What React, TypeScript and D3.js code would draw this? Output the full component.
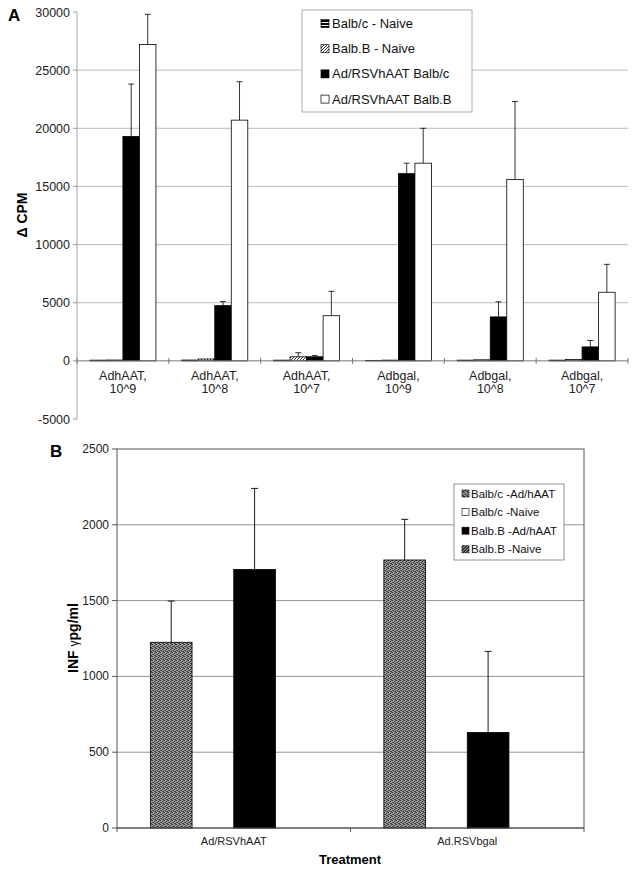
import React from "react";
import * as d3 from "d3";

// ---------- Panel A data ----------
const groupsA = ["AdhAAT,|10^9", "AdhAAT,|10^8", "AdhAAT,|10^7", "Adbgal,|10^9", "Adbgal,|10^8", "Adbgal,|10^7"];
const seriesA = ["Balb/c - Naive", "Balb.B - Naive", "Ad/RSVhAAT Balb/c", "Ad/RSVhAAT Balb.B"];
const balbcNaiveA = [60, 70, 60, 40, 60, 60];
const balbBNaiveA = [70, 160, 350, 60, 90, 120];
const adBalbcA = [19300, 4750, 350, 16100, 3780, 1200];
const adBalbBA = [27200, 20700, 3880, 17000, 15600, 5900];
const errBalbcNaiveA = [0, 0, 0, 0, 0, 0];
const errBalbBNaiveA = [0, 0, 350, 0, 0, 0];
const errAdBalbcA = [4500, 350, 100, 900, 1300, 550];
const errAdBalbBA = [2600, 3300, 2100, 3000, 6700, 2400];
const ticksA = [-5000, 0, 5000, 10000, 15000, 20000, 25000, 30000];

// ---------- Panel B data ----------
const groupsB = ["Ad/RSVhAAT", "Ad.RSVbgal"];
const seriesB = ["Balb/c -Ad/hAAT", "Balb/c -Naive", "Balb.B -Ad/hAAT", "Balb.B -Naive"];
const balbcAdB = [1225, 1768];
const balbcNaiveB = [0, 0];
const balbBAdB = [1705, 630];
const balbBNaiveB = [0, 0];
const errBalbcAdB = [272, 268];
const errBalbBAdB = [535, 535];
const ticksB = [0, 500, 1000, 1500, 2000, 2500];

const FONT = "'Liberation Sans', Arial, Helvetica, sans-serif";

export default function App() {
  const xA = d3.scaleBand<string>().domain(groupsA).range([77, 628]).paddingInner(0).paddingOuter(0);
  const xAin = d3.scaleBand<string>().domain(seriesA).range([0, xA.bandwidth()]).paddingInner(0).paddingOuter(0.78);
  const yA = d3.scaleLinear().domain([-5000, 30000]).range([419, 12]);
  const valsA = [balbcNaiveA, balbBNaiveA, adBalbcA, adBalbBA];
  const errsA = [errBalbcNaiveA, errBalbBNaiveA, errAdBalbcA, errAdBalbBA];
  const fillsA = ["url(#hlines)", "url(#diag)", "#000", "#fff"];

  const xB = d3.scaleBand<string>().domain(groupsB).range([117, 584]).paddingInner(0).paddingOuter(0);
  const xBin = d3.scaleBand<string>().domain(seriesB).range([0, xB.bandwidth()]).paddingInner(0).paddingOuter(0.8);
  const yB = d3.scaleLinear().domain([0, 2500]).range([828, 449]);
  const valsB = [balbcAdB, balbcNaiveB, balbBAdB, balbBNaiveB];
  const errsB = [errBalbcAdB, [0, 0], errBalbBAdB, [0, 0]];
  const fillsB = ["url(#dots)", "#fff", "#000", "url(#darkdiag)"];

  const boundariesA = [...groupsA.map((g) => xA(g)!), 628];
  const boundariesB = [...groupsB.map((g) => xB(g)!), 584];

  return (
    <svg
      width={636}
      height={871}
      style={{ position: "absolute", left: 0, top: 0, display: "block", fontFamily: FONT, background: "#fff" }}
    >
      <defs>
        <pattern id="hlines" width="4" height="3" patternUnits="userSpaceOnUse">
          <rect width="4" height="3" fill="#000" />
          <rect y="1" width="4" height="1" fill="#fff" />
        </pattern>
        <pattern id="diag" width="3" height="3" patternUnits="userSpaceOnUse">
          <rect width="3" height="3" fill="#fff" />
          <path d="M0,3 L3,0" stroke="#000" strokeWidth="0.8" />
        </pattern>
        <pattern id="dots" width="4" height="4" patternUnits="userSpaceOnUse">
          <rect width="4" height="4" fill="#9c9c9c" />
          <rect x="0" y="0" width="1" height="1" fill="#333" />
          <rect x="2" y="1" width="1" height="1" fill="#333" />
          <rect x="1" y="2" width="1" height="1" fill="#333" />
          <rect x="3" y="3" width="1" height="1" fill="#333" />
          <rect x="2" y="3" width="1" height="1" fill="#555" />
          <rect x="0" y="2" width="1" height="1" fill="#555" />
          <rect x="3" y="0" width="1" height="1" fill="#555" />
        </pattern>
        <pattern id="darkdiag" width="3" height="3" patternUnits="userSpaceOnUse">
          <rect width="3" height="3" fill="#333" />
          <path d="M0,3 L3,0" stroke="#ccc" strokeWidth="0.7" />
        </pattern>
      </defs>

      {/* ================= Panel A ================= */}
      <text x={8} y={21} fontSize={17} fontWeight="bold">A</text>
      {ticksA.filter((t) => t > 0 && t < 30000).map((t) => (
        <line key={"ga" + t} x1={77} x2={628} y1={yA(t)} y2={yA(t)} stroke="#aaa" strokeWidth={0.8} />
      ))}
      <line x1={77} x2={77} y1={yA(30000)} y2={yA(-5000)} stroke="#999" strokeWidth={0.9} />
      {ticksA.map((t) => (
        <g key={"ta" + t}>
          <line x1={73} x2={77} y1={yA(t)} y2={yA(t)} stroke="#999" />
          <text x={70} y={yA(t) + 4.5} fontSize={12.5} textAnchor="end" fill="#222">{t}</text>
        </g>
      ))}
      <text transform={`translate(27,${215}) rotate(-90)`} fontSize={14} fontWeight="bold" textAnchor="middle">Δ CPM</text>
      {groupsA.map((g, gi) =>
        seriesA.map((s, si) => {
          const v = valsA[si][gi];
          const x0 = xA(g)! + xAin(s)!;
          const w = xAin.bandwidth();
          const e = errsA[si][gi];
          const cx = x0 + w / 2;
          return (
            <g key={g + s}>
              {e > 0 && (
                <g stroke="#000" strokeWidth={0.8}>
                  <line x1={cx} x2={cx} y1={yA(v)} y2={yA(v + e)} />
                  <line x1={cx - 3} x2={cx + 3} y1={yA(v + e)} y2={yA(v + e)} />
                </g>
              )}
              <rect x={x0} y={yA(v)} width={w} height={yA(0) - yA(v)} fill={fillsA[si]} stroke="#000" strokeWidth={0.8} />
            </g>
          );
        })
      )}
      <line x1={77} x2={628} y1={yA(0)} y2={yA(0)} stroke="#777" strokeWidth={1} />
      {boundariesA.map((b, i) => (
        <line key={"xb" + i} x1={b} x2={b} y1={yA(0) - 3} y2={yA(0) + 3} stroke="#777" />
      ))}
      {groupsA.map((g) => {
        const [l1, l2] = g.split("|");
        const cx = xA(g)! + xA.bandwidth() / 2;
        return (
          <g key={"la" + g}>
            <text x={cx} y={380} fontSize={12.5} textAnchor="middle" fill="#222">{l1}</text>
            <text x={cx} y={393} fontSize={12.5} textAnchor="middle" fill="#222">{l2}</text>
          </g>
        );
      })}
      <rect x={302} y={10} width={170} height={102} fill="#fff" stroke="#999" strokeWidth={0.8} />
      {seriesA.map((s, i) => {
        const cy = 23.5 + i * 25.2;
        return (
          <g key={"lga" + s}>
            <rect x={321} y={cy - 4} width={8} height={8} fill={fillsA[i]} stroke="#000" strokeWidth={0.7} />
            <text x={332} y={cy + 4.5} fontSize={13} fill="#111">{s}</text>
          </g>
        );
      })}

      {/* ================= Panel B ================= */}
      <text x={50} y={457} fontSize={17} fontWeight="bold">B</text>
      {ticksB.filter((t) => t > 0 && t < 2500).map((t) => (
        <line key={"gb" + t} x1={117} x2={584} y1={yB(t)} y2={yB(t)} stroke="#888" strokeWidth={0.9} />
      ))}
      <rect x={117} y={yB(2500)} width={467} height={yB(0) - yB(2500)} fill="none" stroke="#555" strokeWidth={1} />
      {ticksB.map((t) => (
        <g key={"tb" + t}>
          <line x1={112} x2={117} y1={yB(t)} y2={yB(t)} stroke="#555" />
          <text x={109} y={yB(t) + 4} fontSize={12} textAnchor="end" fill="#222">{t}</text>
        </g>
      ))}
      <text transform={`translate(78,${638}) rotate(-90)`} fontSize={14} fontWeight="bold" textAnchor="middle">
        INF <tspan fontWeight="normal" fontSize={12}>γ</tspan>pg/ml
      </text>
      {groupsB.map((g, gi) =>
        seriesB.map((s, si) => {
          const v = valsB[si][gi];
          const x0 = xB(g)! + xBin(s)!;
          const w = xBin.bandwidth();
          const e = errsB[si][gi];
          const cx = x0 + w / 2;
          return (
            <g key={g + s}>
              {e > 0 && (
                <g stroke="#000" strokeWidth={0.9}>
                  <line x1={cx} x2={cx} y1={yB(v)} y2={yB(v + e)} />
                  <line x1={cx - 3.5} x2={cx + 3.5} y1={yB(v + e)} y2={yB(v + e)} />
                </g>
              )}
              {v > 0 && (
                <rect x={x0} y={yB(v)} width={w} height={yB(0) - yB(v)} fill={fillsB[si]} stroke="#000" strokeWidth={0.8} />
              )}
            </g>
          );
        })
      )}
      <line x1={117} x2={584} y1={yB(0)} y2={yB(0)} stroke="#555" strokeWidth={1.2} />
      {boundariesB.map((b, i) => (
        <line key={"xbb" + i} x1={b} x2={b} y1={yB(0)} y2={yB(0) + 4} stroke="#555" />
      ))}
      {groupsB.map((g) => (
        <text key={"lb" + g} x={xB(g)! + xB.bandwidth() / 2} y={845} fontSize={11} textAnchor="middle" fill="#222">{g}</text>
      ))}
      <text x={350} y={864} fontSize={13} fontWeight="bold" textAnchor="middle">Treatment</text>
      <rect x={454} y={484} width={110} height={76} fill="#fff" stroke="#777" strokeWidth={0.8} />
      {seriesB.map((s, i) => {
        const cy = 493.5 + i * 18.6;
        return (
          <g key={"lgb" + s}>
            <rect x={462} y={cy - 3.5} width={7} height={7} fill={fillsB[i]} stroke="#000" strokeWidth={0.6} />
            <text x={471} y={cy + 4} fontSize={11.5} fill="#111">{s}</text>
          </g>
        );
      })}
    </svg>
  );
}
